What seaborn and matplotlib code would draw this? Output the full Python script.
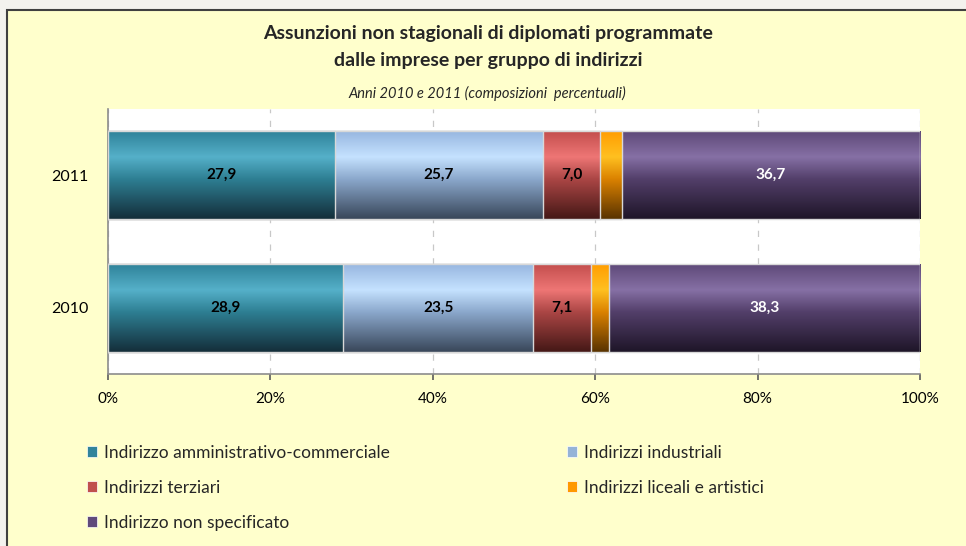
import numpy as np
import pandas as pd
import matplotlib
matplotlib.use("Agg")
import matplotlib.pyplot as plt
import seaborn as sns
from matplotlib.colors import to_rgb
from matplotlib.patches import Rectangle, Patch

# data
years = ["2011", "2010"]
categories = ["Indirizzo amministrativo-commerciale", "Indirizzi industriali",
              "Indirizzi terziari", "Indirizzi liceali e artistici",
              "Indirizzo non specificato"]
amministrativo = [27.9, 28.9]
industriali = [25.7, 23.5]
terziari = [7.0, 7.1]
liceali = [2.7, 2.2]
non_specificato = [36.7, 38.3]

series = [amministrativo, industriali, terziari, liceali, non_specificato]
legend_colors = ["#31849B", "#95B3D7", "#C0504D", "#FF9900", "#604A7B"]
# gradient stops top -> bottom (top, light band, middle, bottom)
gradients = [
    ["#2E8198", "#55B0C9", "#2E7F93", "#142E3A"],
    ["#96B5DF", "#C5E2FF", "#8BA8CC", "#39475A"],
    ["#C24D4C", "#EE7675", "#AB4645", "#451816"],
    ["#FF9C00", "#FFC020", "#DB8200", "#593300"],
    ["#5D4877", "#8670A5", "#533F6A", "#1E1528"],
]
label_colors = ["black", "black", "black", "black", "white"]

sns.set_theme(style="white")
plt.rcParams["font.family"] = ["Lato", "DejaVu Sans"]

fig = plt.figure(figsize=(9.66, 5.46), dpi=100)
fig.patch.set_facecolor("#F3F2EE")
fig.patches.append(Rectangle((7 / 966, -0.01), 1.01, 1.01 - 10 / 546, transform=fig.transFigure,
                             facecolor="#FFFFCC", edgecolor="#404040", linewidth=1.5,
                             zorder=-5))

ax = fig.add_axes([108 / 966, 1 - 374 / 546, 812 / 966, 265 / 546])
ax.set_zorder(2)
ax.set_facecolor("white")

df = pd.DataFrame({"year": years})
cum = np.zeros(len(years))
cums = []
for s in series:
    cum = cum + np.array(s)
    cums.append(cum.copy())


def make_grad(stops):
    pos = [0.0, 0.3, 0.55, 1.0]
    rgb = np.array([to_rgb(c) for c in stops])
    t = np.linspace(0, 1, 100)
    cols = np.stack([np.interp(t, pos, rgb[:, k]) for k in range(3)], axis=1)
    return cols[:, None, :]


# draw from the longest cumulative bar to the shortest so each segment shows
for layer, i in enumerate(range(len(series) - 1, -1, -1)):
    df["cum"] = cums[i]
    n0 = len(ax.patches)
    sns.barplot(data=df, x="cum", y="year", order=years, orient="h",
                color=legend_colors[i], width=0.667, ax=ax)
    grad = make_grad(gradients[i])
    for p in ax.patches[n0:]:
        x0, y0 = p.get_x(), p.get_y()
        w, h = p.get_width(), p.get_height()
        p.set_facecolor("none")
        p.set_edgecolor("#D8D8D8")
        p.set_linewidth(1.0)
        p.set_zorder(3 + 2 * layer + 1)
        im = ax.imshow(grad, extent=(x0, x0 + w, y0 + h, y0), origin="upper",
                       aspect="auto", zorder=3 + 2 * layer, interpolation="bilinear")
        im.set_clip_path(p)

# segment labels
start = np.zeros(len(years))
for i, s in enumerate(series):
    for j, v in enumerate(s):
        if v >= 3:
            ax.text(start[j] + v / 2, j, f"{v:.1f}".replace(".", ","),
                    ha="center", va="center", fontsize=11, fontweight="bold",
                    color=label_colors[i], zorder=20)
    start = start + np.array(s)

ax.set_xlim(0, 100)
ax.set_ylim(1.5, -0.5)
ax.set_xticks([0, 20, 40, 60, 80, 100])
ax.set_xticklabels(["0%", "20%", "40%", "60%", "80%", "100%"])
ax.set_xlabel("")
ax.set_ylabel("")
ax.xaxis.grid(True, color="#C8C8C8", linestyle=(0, (5, 6)), linewidth=0.9)
ax.set_axisbelow(True)
for sp in ["top", "right"]:
    ax.spines[sp].set_visible(False)
for sp in ["left", "bottom"]:
    ax.spines[sp].set_color("#8C8C8C")
    ax.spines[sp].set_linewidth(1.2)
ax.tick_params(axis="x", bottom=True, length=4, color="#606060", pad=9,
               labelsize=11, labelcolor="black")
ax.tick_params(axis="y", left=False, pad=8, labelsize=11.5, labelcolor="black")

# titles
fig.text(0.505, 1 - 33 / 546, "Assunzioni non stagionali di diplomati programmate",
         ha="center", va="center", fontsize=14, fontweight="bold")
fig.text(0.505, 1 - 60 / 546, "dalle imprese per gruppo di indirizzi",
         ha="center", va="center", fontsize=14, fontweight="bold")
fig.text(0.505, 1 - 93 / 546, "Anni 2010 e 2011 (composizioni  percentuali)",
         ha="center", va="center", fontsize=10.5, fontstyle="italic")

# legend: two columns placed like the original
handles = [Patch(facecolor=c, edgecolor="white", linewidth=0.5) for c in legend_colors]
left_idx = [0, 2, 4]
right_idx = [1, 3]
for idx, xpos in [(left_idx, 78 / 966), (right_idx, 558 / 966)]:
    leg = fig.legend([handles[k] for k in idx], [categories[k] for k in idx],
                     loc="upper left", bbox_to_anchor=(xpos, 1 - 436 / 546),
                     frameon=False, fontsize=12.5, handlelength=0.6, handleheight=0.6,
                     handletextpad=0.4, labelspacing=1.1, borderpad=0)

fig.savefig("out.png", dpi=100, facecolor=fig.get_facecolor())
